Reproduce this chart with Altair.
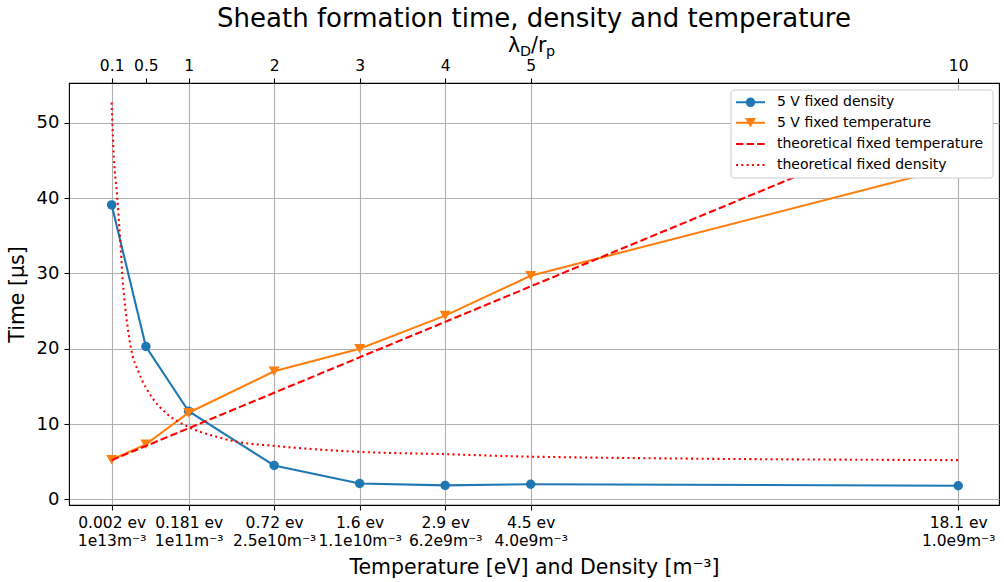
import altair as alt
import pandas as pd

# ---------------- data ----------------
lam_top_ticks = [0.1, 0.5, 1, 2, 3, 4, 5, 10]
lam_bottom_ticks = [0.1, 1, 2, 3, 4, 5, 10]
temp_labels = ["0.002 ev", "0.181 ev", "0.72 ev", "1.6 ev", "2.9 ev", "4.5 ev", "18.1 ev"]
dens_labels = ["1e13m⁻³", "1e11m⁻³", "2.5e10m⁻³", "1.1e10m⁻³", "6.2e9m⁻³", "4.0e9m⁻³", "1.0e9m⁻³"]
y_ticks = [0, 10, 20, 30, 40, 50]

meas_x = [0.1, 0.5, 1, 2, 3, 4, 5, 10]
fixed_density = [39.1, 20.3, 11.7, 4.5, 2.1, 1.85, 2.0, 1.8]
fixed_temperature = [5.25, 7.3, 11.5, 17.0, 20.0, 24.4, 29.7, 44.3]

theo_temp_x = [0.1, 1, 2, 3, 4, 5, 10]
theo_temp_y = [5.2, 9.44, 14.15, 18.86, 23.57, 28.28, 51.8]

theo_dens_x = [0.1, 0.119, 0.166, 0.205, 0.229, 0.267, 0.322, 0.423, 0.568,
               0.743, 1.0, 1.33, 1.56, 2, 3, 4, 5, 10]
theo_dens_y = [52.7, 46.8, 40.0, 33.5, 29.1, 24.7, 20.3, 16.7, 13.6,
               11.4, 9.6, 8.3, 7.65, 7.1, 6.3, 6.0, 5.66, 5.2]

series_names = ["5 V fixed density", "5 V fixed temperature",
                "theoretical fixed temperature", "theoretical fixed density"]
series_colors = ["#1f77b4", "#ff7f0e", "#ff0000", "#ff0000"]
series_dash = [[1, 0], [1, 0], [7.4, 3.2], [2, 3.3]]
series_shape = ["circle", "triangle-down", None, None]

FONT = "DejaVu Sans"
CIRCLE_SIZE = 90
TRI_SIZE = 120

def frame(xs, ys, name):
    return pd.DataFrame({"lam": xs, "time": ys, "series": name})

dfs = [frame(meas_x, fixed_density, series_names[0]),
       frame(meas_x, fixed_temperature, series_names[1]),
       frame(theo_temp_x, theo_temp_y, series_names[2]),
       frame(theo_dens_x, theo_dens_y, series_names[3])]

xscale = alt.Scale(domain=[-0.399, 10.477], nice=False, zero=False)
yscale = alt.Scale(domain=[-0.757, 55.3], nice=False, zero=False)

expr = ""
for v, t, d in zip(lam_bottom_ticks, temp_labels, dens_labels):
    expr += f"abs(datum.value - {v}) < 1e-6 ? ['{t}', '{d}'] : "
expr += "''"

bottom_axis = alt.Axis(
    values=lam_bottom_ticks, labelExpr=expr, grid=True, gridColor="#b0b0b0",
    gridWidth=1.1, domain=False, tickSize=5, tickColor="black", tickWidth=1.1,
    labelFontSize=15.5, labelColor="black", labelPadding=5, labelLineHeight=18.5,
    labelOverlap=False, labelFlush=False,
    title="Temperature [eV] and Density [m⁻³]", titleFontSize=20.5,
    titleFontWeight="normal", titleColor="black", titlePadding=8)

left_axis = alt.Axis(
    values=y_ticks, grid=True, gridColor="#b0b0b0", gridWidth=1.1, domain=False,
    tickSize=5, tickColor="black", tickWidth=1.1, labelFontSize=18,
    labelColor="black", labelPadding=5, title="Time [µs]", titleFontSize=20.5,
    titleFontWeight="normal", titleColor="black", titlePadding=9)

top_axis = alt.Axis(
    orient="top", values=lam_top_ticks,
    labelExpr="datum.value < 1 ? format(datum.value, '.1f') : format(datum.value, 'd')",
    grid=False, domain=False,
    tickSize=5, tickColor="black", tickWidth=1.1, labelFontSize=15.5,
    labelColor="black", labelPadding=5, labelOverlap=False, labelFlush=False,
    title=None)

layers = []

# blue line carries the bottom and left axes
layers.append(
    alt.Chart(dfs[0]).mark_line(color=series_colors[0], strokeWidth=2.1).encode(
        x=alt.X("lam:Q", scale=xscale, axis=bottom_axis),
        y=alt.Y("time:Q", scale=yscale, axis=left_axis)))
layers.append(
    alt.Chart(dfs[0]).mark_point(shape="circle", filled=True, size=CIRCLE_SIZE,
                                 color=series_colors[0], opacity=1).encode(
        x=alt.X("lam:Q", scale=xscale, axis=None),
        y=alt.Y("time:Q", scale=yscale, axis=None)))
# orange
layers.append(
    alt.Chart(dfs[1]).mark_line(color=series_colors[1], strokeWidth=2.1).encode(
        x=alt.X("lam:Q", scale=xscale, axis=None),
        y=alt.Y("time:Q", scale=yscale, axis=None)))
layers.append(
    alt.Chart(dfs[1]).mark_point(shape="triangle-down", filled=True, size=TRI_SIZE,
                                 color=series_colors[1], opacity=1).encode(
        x=alt.X("lam:Q", scale=xscale, axis=None),
        y=alt.Y("time:Q", scale=yscale, axis=None)))
# theory dashed
layers.append(
    alt.Chart(dfs[2]).mark_line(color=series_colors[2], strokeWidth=2.1,
                                strokeDash=series_dash[2]).encode(
        x=alt.X("lam:Q", scale=xscale, axis=None),
        y=alt.Y("time:Q", scale=yscale, axis=None)))
# theory dotted
layers.append(
    alt.Chart(dfs[3]).mark_line(color=series_colors[3], strokeWidth=2.1,
                                strokeDash=series_dash[3],
                                interpolate="monotone").encode(
        x=alt.X("lam:Q", scale=xscale, axis=None),
        y=alt.Y("time:Q", scale=yscale, axis=None)))
# invisible layer carrying the top axis
layers.append(
    alt.Chart(dfs[0]).mark_point(opacity=0).encode(
        x=alt.X("lam:Q", scale=xscale, axis=top_axis),
        y=alt.Y("time:Q", scale=yscale, axis=None)))

one = alt.InlineData(values=[{"k": 0}])

# top axis title  λ_D / r_p
for txt, px, py, fs in [("λ", 439, -31, 20.5), ("D", 451, -27, 14.3),
                        ("/r", 462, -31, 20.5), ("p", 477, -27, 14.3)]:
    layers.append(
        alt.Chart(one).mark_text(text=txt, font=FONT, fontSize=fs, color="black",
                                 align="left", baseline="alphabetic").encode(
            x=alt.value(px), y=alt.value(py)))

# legend box
layers.append(
    alt.Chart(one).mark_rect(fill="white", stroke="#cccccc", strokeWidth=1,
                             cornerRadius=3).encode(
        x=alt.value(662), x2=alt.value(924), y=alt.value(7), y2=alt.value(95)))

row_y = [19.3, 39.7, 61, 82]
for name, col, dash, shp, ry in zip(series_names, series_colors, series_dash,
                                    series_shape, row_y):
    layers.append(
        alt.Chart(one).mark_rule(color=col, strokeWidth=2.1, strokeDash=dash).encode(
            x=alt.value(667), x2=alt.value(696), y=alt.value(ry)))
    if shp is not None:
        layers.append(
            alt.Chart(one).mark_point(shape=shp, filled=True, opacity=1, color=col,
                                      size=CIRCLE_SIZE if shp == "circle" else TRI_SIZE).encode(
                x=alt.value(681.5), y=alt.value(ry)))
    layers.append(
        alt.Chart(one).mark_text(text=name, font=FONT, fontSize=14, color="black",
                                 align="left", baseline="middle").encode(
            x=alt.value(708), y=alt.value(ry)))

chart = alt.layer(*layers).resolve_axis(x="independent", y="independent").properties(
    width=930, height=422, autosize="none",
    padding={"left": 69, "top": 83, "right": 5, "bottom": 77},
    title=alt.TitleParams("Sheath formation time, density and temperature",
                          fontSize=26, font=FONT, fontWeight="normal",
                          color="black", anchor="middle", frame="group", offset=4),
).configure(font=FONT).configure_axis(
    labelFont=FONT, titleFont=FONT
).configure_view(stroke="black", strokeWidth=1.1)

chart.save("out.html", embed_options={"renderer": "svg", "actions": False})
